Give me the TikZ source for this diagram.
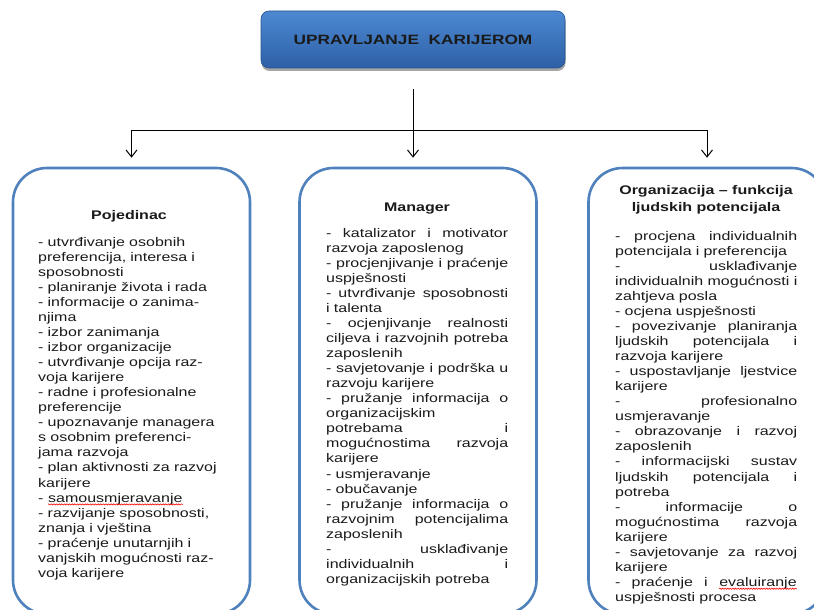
\documentclass[tikz,border=0pt]{standalone}
\usepackage{fontspec}
\setmainfont{Liberation Sans}[FakeStretch=1.28]
\usepackage{tikz}
\usetikzlibrary{arrows.meta,shadows,decorations.pathmorphing}

\definecolor{boxblue}{HTML}{4F81BD}
\definecolor{toptop}{HTML}{4C89D2}
\definecolor{topbot}{HTML}{2D60A6}
\definecolor{inktext}{HTML}{1A1A1A}

\newcommand{\jl}[1]{{\spaceskip=\fontdimen2\font plus 1fill\makebox[182pt][s]{#1}}}
\newcommand{\firstln}{\rule{0pt}{10pt}}
\newcommand{\spellmark}[1]{\tikz[baseline=(wv.base)]{\node[inner sep=0pt] (wv) {#1};
  \draw[red, line width=0.6pt, decorate, decoration={snake, amplitude=0.6pt, segment length=2.6pt}]
    ([yshift=-2.4pt]wv.base west) -- ([yshift=-2.4pt]wv.base east);}}

\begin{document}
\begin{tikzpicture}[x=1pt,y=1pt,
  topbox/.style={rounded corners=8pt, minimum width=304pt, minimum height=57pt,
    top color=toptop, bottom color=topbot, draw=topbot!85!black, line width=0.6pt,
    drop shadow={shadow xshift=0.5pt, shadow yshift=-3pt, opacity=0.35, fill=black},
    font=\fontsize{13.5}{16}\selectfont\bfseries, text=inktext},
  colbox/.style={draw=boxblue, line width=2.6pt, fill=white, rounded corners=34pt,
    minimum width=237pt, minimum height=446pt, inner sep=0pt},
  headtext/.style={font=\fontsize{12.5}{17}\selectfont\bfseries, text=inktext, align=center, inner sep=0pt},
  listtext/.style={font=\fontsize{12.5}{15.05}\selectfont, text=inktext, text width=190pt,
    align=left, inner sep=0pt, anchor=north west},
  arr/.style={-{Straight Barb[length=7pt,width=11pt]}, line width=1pt, shorten >=9pt}]

  \clip (0,0) rectangle (814,-610);

  \draw (413,-39.5) node[topbox] (top) {UPRAVLJANJE\ \ KARIJEROM};

  \draw (131.5,-391) node[colbox] (indbox) {};
  \draw (418,-391) node[colbox] (mgrbox) {};
  \draw (707,-391) node[colbox] (orgbox) {};

  \coordinate (trunk) at ([yshift=-21pt]top.south);
  \coordinate (split) at ([yshift=-41pt]trunk);
  \draw[line width=1pt] (trunk) -- (split);
  \draw[arr] (split) -| (indbox.north);
  \draw[arr] (split) -- (split |- mgrbox.north);
  \draw[arr] (split) -| (orgbox.north);

  \draw (129,-219) node[headtext, anchor=base] (indhead) {Pojedinac};
  \draw (417,-211) node[headtext, anchor=base] (mgrhead) {Manager};
  \draw (706,-184) node[headtext, anchor=north] (orghead) {\firstln Organizacija – funkcija\\ ljudskih potencijala};

  \draw (38,-236) node[listtext] (indlist) {\firstln - utvrđivanje osobnih\\
    preferencija, interesa i\\
    sposobnosti\\
    - planiranje života i rada\\
    - informacije o zanima-\\
    njima\\
    - izbor zanimanja\\
    - izbor organizacije\\
    - utvrđivanje opcija raz-\\
    voja karijere\\
    - radne i profesionalne\\
    preferencije\\
    - upoznavanje managera\\
    s osobnim preferenci-\\
    jama razvoja\\
    - plan aktivnosti za razvoj\\
    karijere\\
    - \spellmark{samousmjeravanje}\\
    - razvijanje sposobnosti,\\
    znanja i vještina\\
    - praćenje unutarnjih i\\
    vanjskih mogućnosti raz-\\
    voja karijere};

  \draw (326,-227) node[listtext] (mgrlist) {\firstln\jl{- katalizator i motivator}\\
    razvoja zaposlenog\\
    \jl{- procjenjivanje i praćenje}\\
    uspješnosti\\
    \jl{- utvrđivanje sposobnosti}\\
    i talenta\\
    \jl{- ocjenjivanje realnosti}\\
    \jl{ciljeva i razvojnih potreba}\\
    zaposlenih\\
    \jl{- savjetovanje i podrška u}\\
    razvoju karijere\\
    \jl{- pružanje informacija o}\\
    organizacijskim\\
    \jl{potrebama i}\\
    \jl{mogućnostima razvoja}\\
    karijere\\
    - usmjeravanje\\
    - obučavanje\\
    \jl{- pružanje informacija o}\\
    \jl{razvojnim potencijalima}\\
    zaposlenih\\
    \jl{- usklađivanje}\\
    \jl{individualnih i}\\
    organizacijskih potreba};

  \draw (615,-230) node[listtext] (orglist) {\firstln\jl{- procjena individualnih}\\
    potencijala i preferencija\\
    \jl{- usklađivanje}\\
    \jl{individualnih mogućnosti i}\\
    zahtjeva posla\\
    - ocjena uspješnosti\\
    \jl{- povezivanje planiranja}\\
    \jl{ljudskih potencijala i}\\
    razvoja karijere\\
    \jl{- uspostavljanje ljestvice}\\
    karijere\\
    \jl{- profesionalno}\\
    usmjeravanje\\
    \jl{- obrazovanje i razvoj}\\
    zaposlenih\\
    \jl{- informacijski sustav}\\
    \jl{ljudskih potencijala i}\\
    potreba\\
    \jl{- informacije o}\\
    \jl{mogućnostima razvoja}\\
    karijere\\
    \jl{- savjetovanje za razvoj}\\
    karijere\\
    \jl{- praćenje i \spellmark{evaluiranje}}\\
    uspješnosti procesa};

\end{tikzpicture}
\end{document}
